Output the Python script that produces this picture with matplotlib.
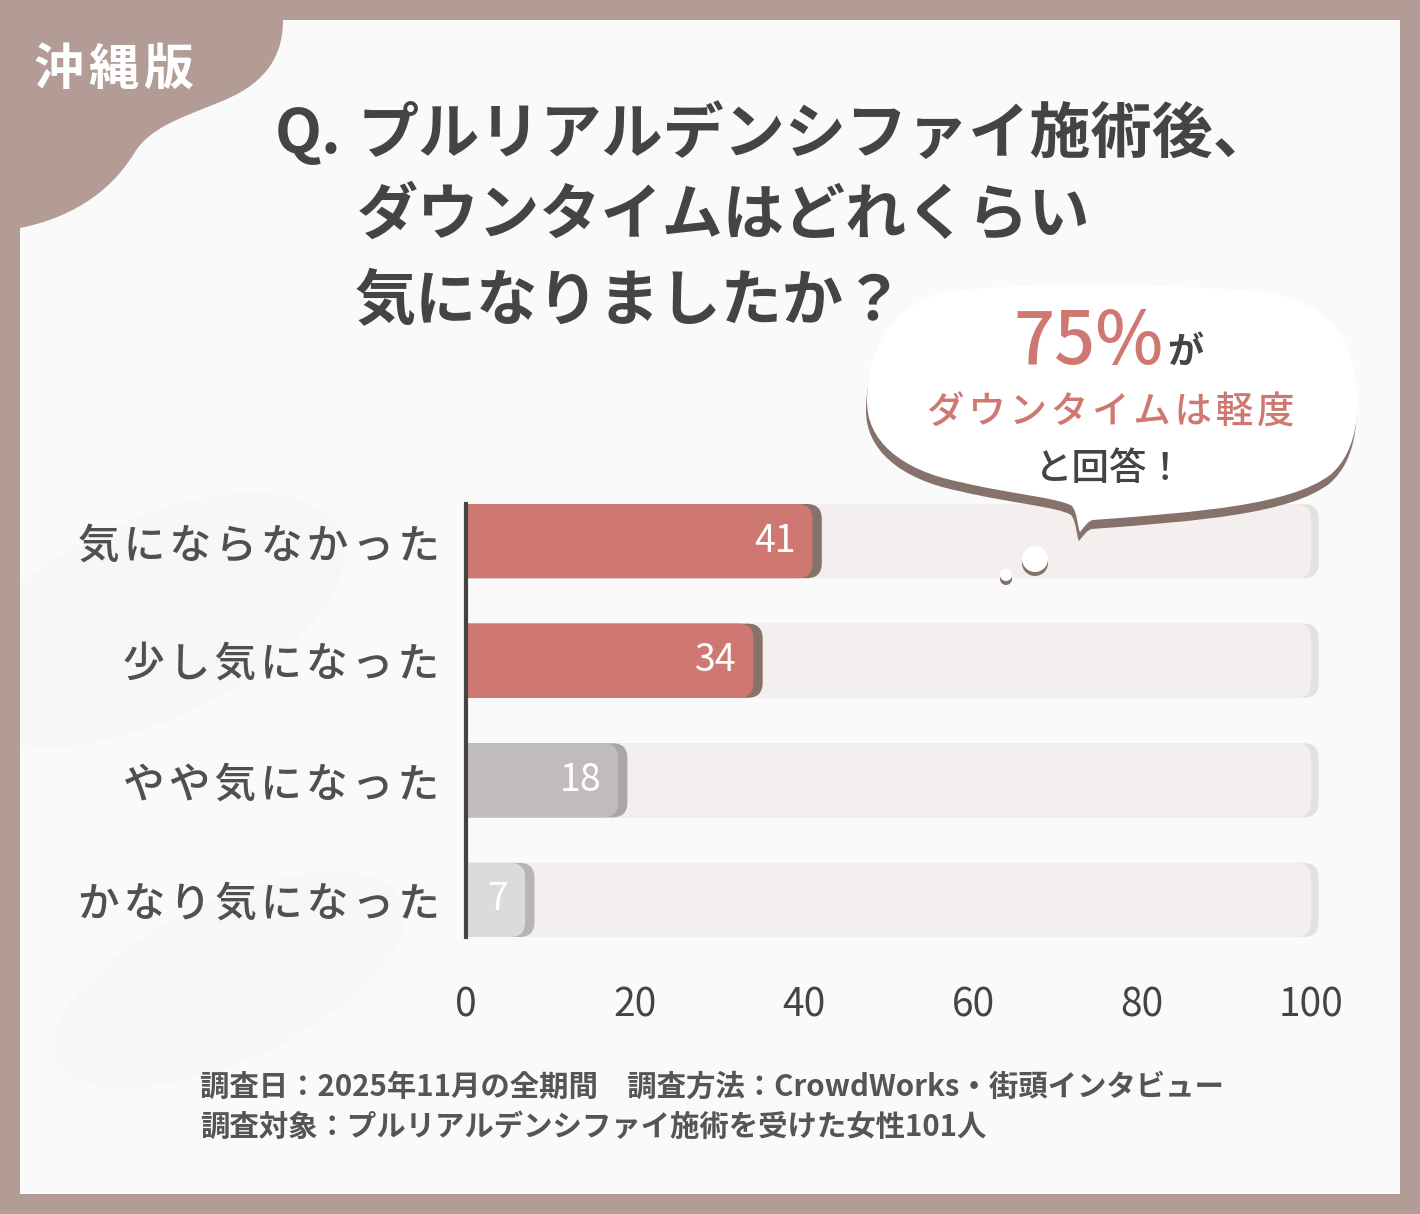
import matplotlib
matplotlib.use("Agg")
import matplotlib.pyplot as plt
from matplotlib.patches import FancyBboxPatch, PathPatch, Rectangle, Circle, Ellipse
from matplotlib.path import Path

plt.rcParams['font.family'] = ['Noto Sans CJK JP', 'DejaVu Sans']

# data
categories = ['気にならなかった', '少し気になった', 'やや気になった', 'かなり気になった']
values = [41, 34, 18, 7]
bar_colors = ['#cf7872', '#cf7872', '#bfbcbb', '#dcdadb']
shadow_colors = ['#86716b', '#86716b', '#a9a6a5', '#b7b4b4']
xticks = [0, 20, 40, 60, 80, 100]

title_lines = ['プルリアルデンシファイ施術後、', 'ダウンタイムはどれくらい', '気になりましたか？']
footer_lines = ['調査日：2025年11月の全期間　調査方法：CrowdWorks・街頭インタビュー',
                '調査対象：プルリアルデンシファイ施術を受けた女性101人']

W, H = 1420, 1214
BORDER = '#b29c95'
DARK = '#444444'
RED = '#cf7872'

fig = plt.figure(figsize=(W / 100, H / 100), dpi=100)

# ---- background layer
bg = fig.add_axes([0, 0, 1, 1], zorder=0)
bg.set_xlim(0, W)
bg.set_ylim(H, 0)
bg.axis('off')
bg.add_patch(Rectangle((0, 0), W, H, fc=BORDER, ec='none'))
bg.add_patch(Rectangle((20, 20), W - 40, H - 40, fc='#fafafa', ec='none'))
# very faint shadows
for (cx, cy, w, h, a) in [(150, 620, 420, 200, 0.025), (230, 980, 380, 160, 0.02)]:
    bg.add_patch(Ellipse((cx, cy), w, h, angle=-25, fc='#888888', ec='none', alpha=a))

blob = Path([(20, 20), (283, 20),
             (283, 62), (260, 86), (220, 102),
             (180, 118), (150, 128), (135, 152),
             (115, 185), (80, 216), (20, 228),
             (20, 20)],
            [Path.MOVETO, Path.LINETO,
             Path.CURVE4, Path.CURVE4, Path.CURVE4,
             Path.CURVE4, Path.CURVE4, Path.CURVE4,
             Path.CURVE4, Path.CURVE4, Path.CURVE4,
             Path.CLOSEPOLY])
bg.add_patch(PathPatch(blob, fc=BORDER, ec='none'))
bg.text(114, 70, '\u200a'.join('沖縄版'), color='white', fontsize=36, fontweight='bold',
        ha='center', va='center')

# ---- chart
left, right_px = 466, 1328
top, bottom = 504, 937
xmax = 102
ax = fig.add_axes([left / W, 1 - bottom / H, (right_px - left) / W, (bottom - top) / H], zorder=1)
ax.set_facecolor('none')
n = len(categories)
bh = 0.62
ax.set_ylim(n - 1 + bh / 2, -bh / 2)
ax.set_xlim(0, xmax)

px_x = (right_px - left) / xmax
px_y = (bottom - top) / (n - 1 + bh)
r = 15 / px_x
asp = px_x / px_y
box = 'round,pad=0,rounding_size=%f' % r

for i, (v, c, sc) in enumerate(zip(values, bar_colors, shadow_colors)):
    y0 = i - bh / 2
    ax.add_patch(FancyBboxPatch((-4, y0), 104 + 0.9, bh, boxstyle=box, mutation_aspect=asp,
                                fc='#e4e1e1', ec='none', zorder=1))
    ax.add_patch(FancyBboxPatch((-4, y0), 104, bh, boxstyle=box, mutation_aspect=asp,
                                fc='#f4efef', ec='none', zorder=1.1))
    ax.add_patch(FancyBboxPatch((-4, y0), v + 4 + 1.1, bh, boxstyle=box, mutation_aspect=asp,
                                fc=sc, ec='none', zorder=2))
    ax.add_patch(FancyBboxPatch((-4, y0), v + 4, bh, boxstyle=box, mutation_aspect=asp,
                                fc=c, ec='none', zorder=2.1))
    ax.annotate(str(v), xy=(v, i), xytext=(-17, 0), textcoords='offset pixels',
                ha='right', va='center', color='white', fontsize=27, zorder=3)

ax.set_yticks(range(n))
ax.set_yticklabels(['\u200a'.join(c) for c in categories], fontweight='medium')
ax.set_xticks(xticks)
ax.tick_params(axis='y', length=0, pad=19, labelsize=30, labelcolor='#505050')
ax.tick_params(axis='x', length=0, pad=35, labelsize=28, labelcolor=DARK)
for s in ['top', 'right', 'bottom']:
    ax.spines[s].set_visible(False)
ax.spines['left'].set_linewidth(3)
ax.spines['left'].set_color(DARK)
ax.spines['left'].set_zorder(5)

# ---- foreground
fg = fig.add_axes([0, 0, 1, 1], zorder=2)
fg.set_xlim(0, W)
fg.set_ylim(H, 0)
fg.axis('off')
fg.patch.set_alpha(0)

bubble_pts = [(1093, 520),
              (1200, 512), (1290, 505), (1330, 475),
              (1360, 450), (1362, 400), (1352, 360),
              (1340, 315), (1300, 292), (1240, 290),
              (1150, 284), (1050, 282), (960, 290),
              (900, 296), (868, 340), (867, 400),
              (866, 440), (900, 470), (960, 482),
              (1010, 494), (1060, 498), (1072, 506),
              (1078, 514), (1077, 526), (1080, 532),
              (1085, 526), (1088, 521), (1093, 520),
              (1093, 520)]
codes = [Path.MOVETO] + [Path.CURVE4] * 27 + [Path.CLOSEPOLY]
shadow_pts = [(x - 1, y + 9) for x, y in bubble_pts]
fg.add_patch(PathPatch(Path(shadow_pts, codes), fc='#86716b', ec='none', zorder=1))
fg.add_patch(PathPatch(Path(bubble_pts, codes), fc='white', ec='none', zorder=2))
for (cx, cy, rr) in [(1035, 559, 13), (1006, 575, 6)]:
    fg.add_patch(Circle((cx, cy + 4), rr, fc='#86716b', ec='none', zorder=1))
    fg.add_patch(Circle((cx, cy), rr, fc='white', ec='none', zorder=2))

fg.text(1088, 343, '75%', color=RED, fontsize=52, fontweight='medium',
        ha='center', va='center', zorder=3)
fg.text(1185, 352, 'が', color=DARK, fontsize=26, fontweight='bold',
        ha='center', va='center', zorder=3)
fg.text(1111, 413, '\u200a'.join('ダウンタイムは軽度'), color=RED, fontsize=27,
        fontweight='medium', ha='center', va='center', zorder=3)
fg.text(1110, 469, 'と回答！', color=DARK, fontsize=27, fontweight='medium',
        ha='center', va='center', zorder=3)

fg.text(275, 135, 'Q.', color=DARK, fontsize=44, fontweight='bold',
        ha='left', va='center', zorder=4)
for (x, y), line in zip([(358, 135), (357, 216), (355, 302)], title_lines):
    fg.text(x, y, line, color=DARK, fontsize=44, fontweight='bold',
            ha='left', va='center', zorder=4)

for y, line in zip([1087, 1127], footer_lines):
    fg.text(200, y, line, color='#555555', fontsize=21.2, fontweight='bold',
            ha='left', va='center', zorder=4)

fig.savefig('out.png', dpi=100)
